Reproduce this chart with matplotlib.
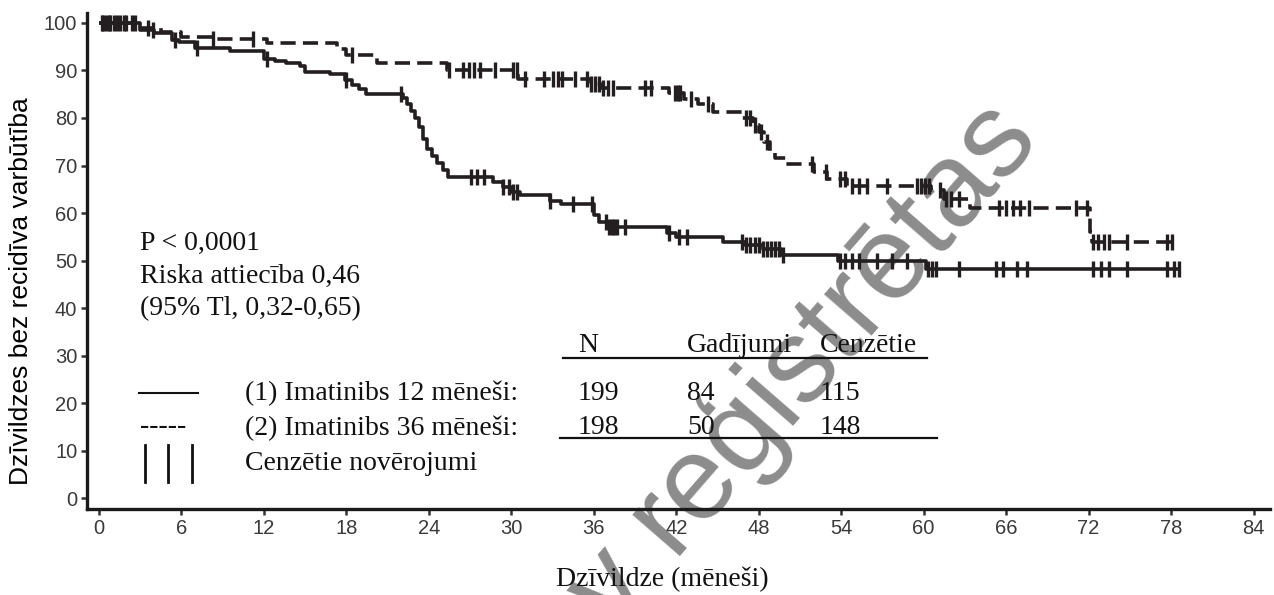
import numpy as np
import matplotlib
matplotlib.use("Agg")
import matplotlib.pyplot as plt

# ---------------- data ----------------
# Arm 1: Imatinibs 12 mēneši (solid)
t1 = [0, 3.0, 4.0, 5.3, 5.8, 7.0, 9.5, 12.0, 12.8, 13.6, 14.6, 15.0, 16.8, 17.9, 18.4,
      18.9, 19.4, 22.1, 22.4, 22.7, 23.0, 23.3, 23.6, 23.9, 24.2, 24.6, 25.0, 25.4, 28.7,
      29.4, 30.0, 30.6, 32.8, 33.6, 36.0, 36.4, 37.0, 41.3, 42.0, 45.4, 47.0, 48.3, 49.6,
      53.8, 60.2]
s1 = [100, 98.5, 97.9, 96.5, 96.0, 94.7, 94.0, 92.5, 92.0, 91.5, 91.0, 89.7, 89.3, 88.0,
      87.0, 86.0, 85.0, 84.2, 83.0, 81.5, 80.0, 78.0, 75.5, 73.5, 72.0, 70.5, 69.0, 67.6,
      66.5, 65.4, 64.5, 63.8, 62.5, 61.8, 59.5, 58.2, 57.0, 55.8, 55.0, 54.0, 53.3, 52.4,
      51.2, 50.0, 48.2]
end1 = 78.6
cens1 = [0.2, 0.5, 0.8, 1.1, 1.5, 2.0, 2.6, 3.9, 5.5, 7.1, 12.2, 18.0, 22.0, 27.1, 27.5,
         28.0, 29.4, 29.8, 30.1, 30.4, 32.8, 34.5, 35.9, 36.9, 37.1, 37.3, 37.5, 37.7, 38.3,
         41.5, 42.2, 42.8, 46.8, 47.1, 47.4, 47.7, 48.0, 48.3, 48.6, 48.9, 49.2, 49.5, 49.8,
         53.9, 54.3, 54.8, 55.3, 56.6, 57.7, 58.8, 60.3, 60.6, 60.9, 62.6, 65.3, 65.8, 66.8,
         67.5, 72.3, 72.9, 73.5, 74.8, 77.7, 78.2, 78.6]

# Arm 2: Imatinibs 36 mēneši (dashed)
t2 = [0, 2.8, 4.5, 6.0, 8.3, 12.2, 17.3, 18.0, 20.2, 25.3, 30.5, 35.8, 36.5, 41.5, 42.6,
      43.6, 44.7, 46.8, 47.6, 48.0, 48.4, 48.8, 49.2, 50.0, 52.0, 53.0, 54.4, 60.5, 61.5,
      63.4, 72.1, 72.25]
s2 = [100, 99.0, 98.0, 97.0, 96.6, 95.7, 94.5, 93.2, 91.5, 90.2, 88.2, 87.2, 86.3, 85.3,
      84.0, 83.0, 81.3, 80.0, 78.5, 77.0, 75.0, 73.0, 71.6, 70.4, 68.6, 67.2, 65.6, 64.8,
      63.0, 61.0, 56.0, 54.0]
end2 = 78.2
cens2 = [0.3, 0.7, 1.3, 1.8, 2.4, 3.6, 8.3, 11.2, 18.4, 25.5, 26.5, 26.9, 27.3, 27.7, 28.8,
         30.1, 30.4, 31.0, 32.4, 33.0, 33.4, 33.7, 34.6, 35.5, 35.8, 36.1, 36.4, 36.7, 37.0,
         37.4, 39.7, 40.2, 41.9, 42.1, 42.3, 43.1, 44.3, 47.1, 47.4, 47.7, 48.2, 48.6, 51.9,
         52.9, 53.9, 54.3, 54.8, 55.3, 55.9, 57.3, 59.5, 59.8, 60.1, 60.4, 61.2, 61.6, 62.0,
         62.6, 65.5, 66.0, 66.5, 67.0, 67.7, 71.1, 71.9, 72.3, 72.7, 73.1, 73.5, 74.8, 77.7,
         78.1]

x_ticks = list(range(0, 85, 6))
y_ticks = list(range(0, 101, 10))

stats_lines = ["P < 0,0001", "Riska attiecība 0,46", "(95% Tl, 0,32-0,65)"]
table_header = ["N", "Gadījumi", "Cenzētie"]
groups = ["(1) Imatinibs 12 mēneši:", "(2) Imatinibs 36 mēneši:"]
table_N = [199, 198]
table_events = [84, 50]
table_cens = [115, 148]
censor_label = "Cenzētie novērojumi"
watermark = "Zāles vairs nav reģistrētas"

# ---------------- figure ----------------
W, H = 1274, 595
fig = plt.figure(figsize=(W / 100, H / 100), dpi=100)

def fx(px):
    return px / W

def fy(py):
    return 1 - py / H

ax = fig.add_axes([fx(87), fy(509), fx(1270) - fx(87), fy(13) - fy(509)])
ax.patch.set_alpha(0)

CURVE = "#231f20"
LW = 2.6

def step_vals(times, surv, pts):
    times = np.asarray(times)
    surv = np.asarray(surv)
    idx = np.searchsorted(times, pts, side="right") - 1
    return surv[idx]

for times, surv, end, cens, ls in [(t1, s1, end1, cens1, "-"),
                                    (t2, s2, end2, cens2, (0, (4.2, 2.0)))]:
    tt = list(times) + [end]
    ss = list(surv) + [surv[-1]]
    ax.step(tt, ss, where="post", color=CURVE, lw=LW, linestyle=ls,
            solid_capstyle="butt", dash_capstyle="butt", zorder=3)
    cy = step_vals(times, surv, np.asarray(cens))
    ax.plot(cens, cy, linestyle="none", marker="|", markersize=12,
            markeredgewidth=2.4, color=CURVE, zorder=4)

ax.set_xlim(-0.87, 85.2)
ax.set_ylim(-2.3, 102.1)
ax.set_xticks(x_ticks)
ax.set_yticks(y_ticks)
ax.tick_params(axis="both", direction="out", length=4, width=1.8, color="#333333",
               labelsize=14.5, labelcolor="#3a3a3a", pad=3)
for lab in ax.get_xticklabels() + ax.get_yticklabels():
    lab.set_fontfamily("Liberation Sans")
for sp in ["top", "right"]:
    ax.spines[sp].set_visible(False)
for sp in ["left", "bottom"]:
    ax.spines[sp].set_linewidth(2.4)
    ax.spines[sp].set_color("#1a1a1a")

ax.set_ylabel("Dzīvildzes bez recidīva varbūtība", fontfamily="Liberation Sans",
              fontsize=19)
ax.yaxis.set_label_coords((33 - 87) / (1270 - 87), 0.44)

SERIF = dict(fontfamily="Liberation Serif", fontsize=20, color="#111111", va="center")

# x-axis title
fig.text(fx(662), fy(579), "Dzīvildze (mēneši)", ha="center", **SERIF)

# stats text
for i, line in enumerate(stats_lines):
    fig.text(fx(140), fy(243 + i * 33), line, ha="left", **SERIF)

# table header
hx = [578, 687, 820]
for x, h in zip(hx, table_header):
    fig.text(fx(x), fy(345), h, ha="left", **SERIF)
fig.add_artist(plt.Line2D([fx(563), fx(927)], [fy(358), fy(358)], color="#111111", lw=1.6))

# rows
rows_y = [393, 428]
for i, g in enumerate(groups):
    fig.text(fx(245), fy(rows_y[i]), g, ha="left", **SERIF)
    fig.text(fx(hx[0]), fy(rows_y[i]), str(table_N[i]), ha="left", **SERIF)
    fig.text(fx(hx[1]), fy(rows_y[i]), str(table_events[i]), ha="left", **SERIF)
    fig.text(fx(hx[2]), fy(rows_y[i]), str(table_cens[i]), ha="left", **SERIF)
fig.add_artist(plt.Line2D([fx(560), fx(937)], [fy(438), fy(438)], color="#111111", lw=1.6))
fig.text(fx(245), fy(464), censor_label, ha="left", **SERIF)

# legend symbols
fig.add_artist(plt.Line2D([fx(139), fx(198)], [fy(393), fy(393)], color="#111111", lw=1.5))
fig.text(fx(140), fy(427), "-----", ha="left", **SERIF)
for x in [145, 168, 192]:
    fig.add_artist(plt.Line2D([fx(x), fx(x)], [fy(445), fy(482)], color="#111111", lw=2.0))

# watermark
fig.text(fx(1041), fy(141), watermark, rotation=49,
         rotation_mode="anchor", ha="right", va="baseline", fontsize=86,
         fontfamily="Liberation Sans", color="#8c8c8c", zorder=-1)

fig.savefig("out.png", dpi=100)
